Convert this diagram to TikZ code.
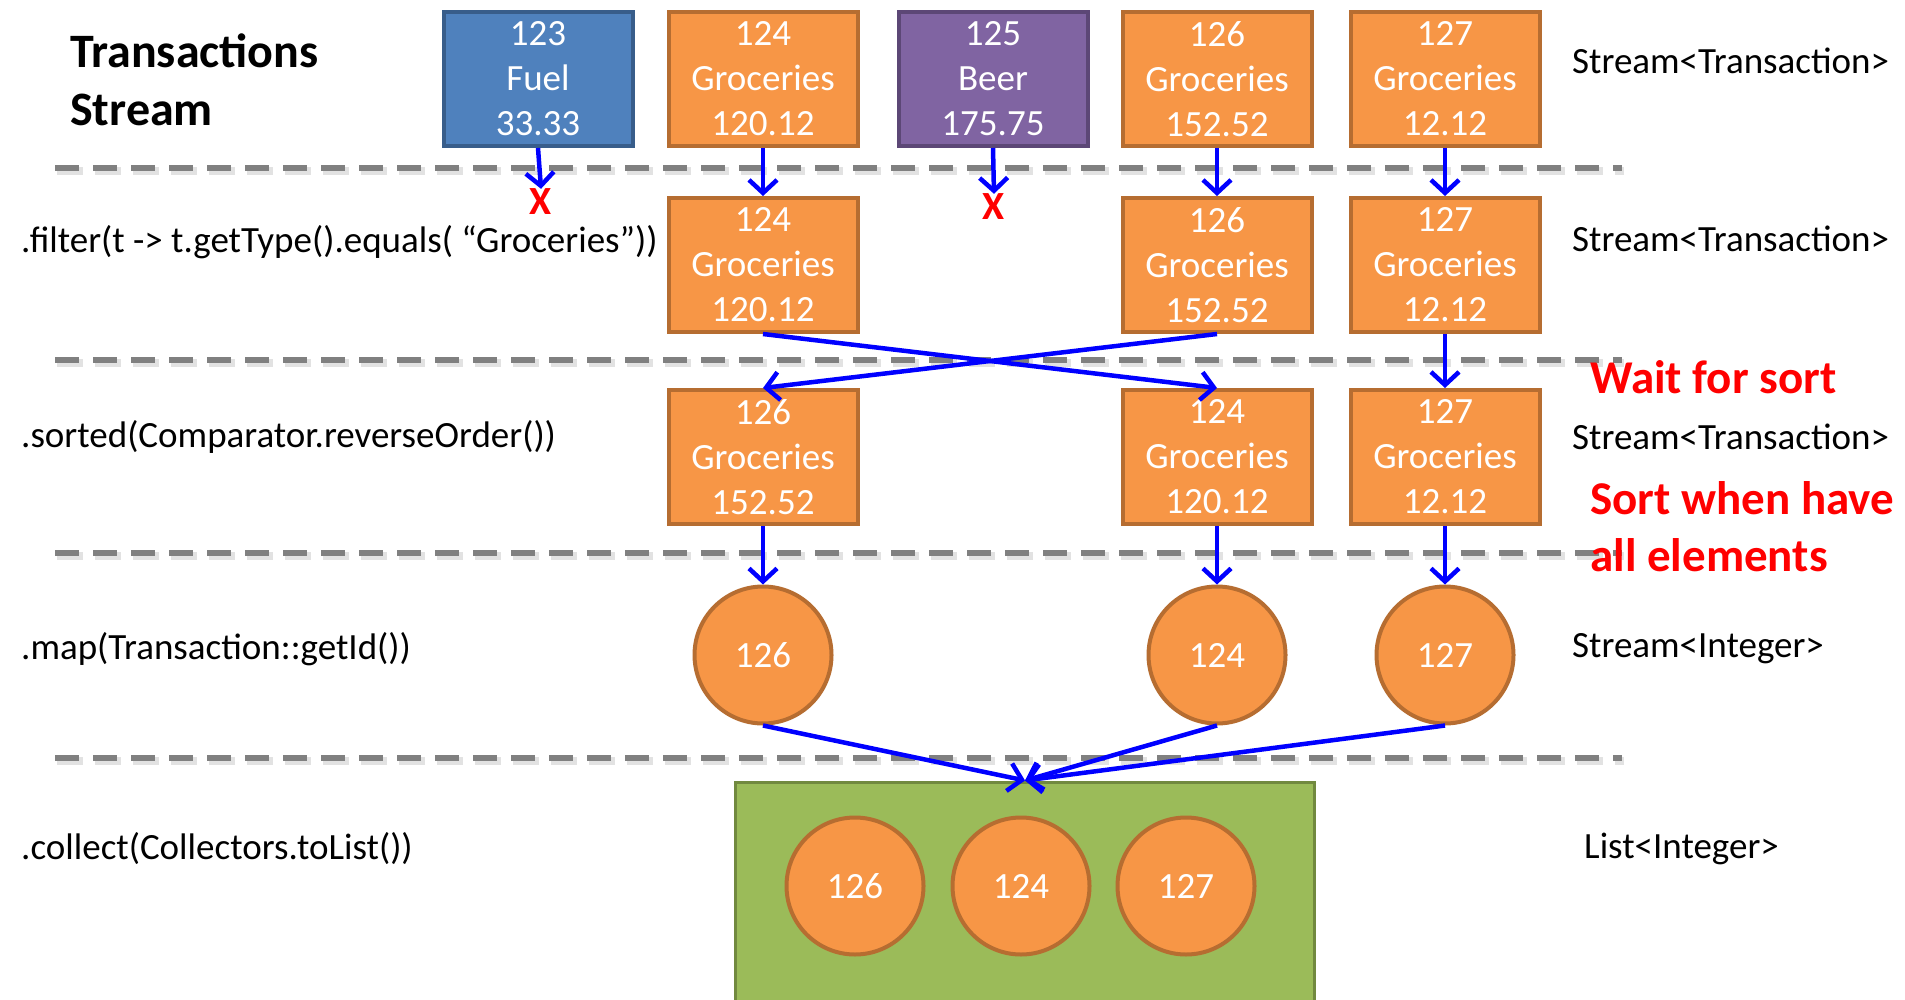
\documentclass[tikz,border=0pt]{standalone}
\usepackage{fontspec}
\setmainfont{Carlito}
\usetikzlibrary{arrows.meta}
\definecolor{orfill}{HTML}{F79646}
\definecolor{ordraw}{HTML}{B66D31}
\definecolor{blfill}{HTML}{4F81BD}
\definecolor{bldraw}{HTML}{385D8A}
\definecolor{pufill}{HTML}{8064A2}
\definecolor{pudraw}{HTML}{5C4776}
\definecolor{grfill}{HTML}{9BBB59}
\definecolor{grdraw}{HTML}{71893F}
\definecolor{sepgray}{HTML}{808080}
\definecolor{sepshadow}{HTML}{E2E2E2}
\definecolor{flowblue}{HTML}{0000FF}
\definecolor{alertred}{HTML}{FF0000}
\begin{document}
\begin{tikzpicture}[x=1pt,y=-1pt,
  txbox/.style={rectangle, draw=ordraw, fill=orfill, line width=4pt,
    minimum width=189pt, minimum height=134pt, inner sep=0pt,
    text=white, align=center, font=\fontsize{37}{45}\selectfont},
  fuelbox/.style={txbox, draw=bldraw, fill=blfill},
  beerbox/.style={txbox, draw=pudraw, fill=pufill},
  idcirc/.style={circle, draw=ordraw, fill=orfill, line width=4pt,
    minimum size=137pt, inner sep=0pt, text=white,
    font=\fontsize{37}{45}\selectfont},
  listbox/.style={rectangle, draw=grdraw, fill=grfill, line width=3pt,
    minimum width=579pt, minimum height=260pt, inner sep=0pt},
  sepline/.style={draw=sepgray, line width=6pt, dash pattern=on 24pt off 14pt},
  sepshade/.style={draw=sepshadow, line width=8pt, dash pattern=on 26pt off 12pt},
  flow/.style={draw=flowblue, line width=4.5pt,
    -{Straight Barb[length=13pt,width=28pt]}},
  oplabel/.style={anchor=west, inner sep=0pt, font=\fontsize{37}{45}\selectfont},
  typelabel/.style={anchor=west, inner sep=0pt, font=\fontsize{37}{45}\selectfont},
  redlabel/.style={anchor=west, inner sep=0pt, text=alertred,
    font=\fontsize{47}{57}\selectfont\bfseries},
  dropmark/.style={inner sep=0pt, text=alertred, font=\fontsize{40}{40}\selectfont\bfseries},
]
\useasboundingbox (0,0) rectangle (1905,1000);
\clip (0,0) rectangle (1905,1000);

% separators
\foreach \yy in {168,360,553,758}{
  \draw[sepshade] (57,\yy+3) -- (1624,\yy+3);
  \draw[sepline] (55,\yy) -- (1622,\yy);
}

% title
\node[anchor=west, inner sep=0pt, align=left,
  font=\fontsize{48}{58}\selectfont\bfseries] (title) at (70,80) {Transactions\\Stream};

% row 1
\node[fuelbox] (r1a) at (538,79) {123\\Fuel\\33.33};
\node[txbox]   (r1b) at (763,79) {124\\Groceries\\120.12};
\node[beerbox] (r1c) at (993,79) {125\\Beer\\175.75};
\node[txbox]   (r1d) at (1217,79) {126\\Groceries\\152.52};
\node[txbox]   (r1e) at (1445,79) {127\\Groceries\\12.12};

% row 2 (filter)
\node[txbox] (r2b) at (763,265) {124\\Groceries\\120.12};
\node[txbox] (r2d) at (1217,265) {126\\Groceries\\152.52};
\node[txbox] (r2e) at (1445,265) {127\\Groceries\\12.12};

% row 3 (sorted)
\node[txbox] (r3a) at (763,457) {126\\Groceries\\152.52};
\node[txbox] (r3b) at (1217,457) {124\\Groceries\\120.12};
\node[txbox] (r3c) at (1445,457) {127\\Groceries\\12.12};

% row 4 (map)
\node[idcirc] (r4a) at (763,655) {126};
\node[idcirc] (r4b) at (1217,655) {124};
\node[idcirc] (r4c) at (1445,655) {127};

% collect
\node[listbox] (coll) at (1025,912) {};
\node[idcirc] (c1) at (855,886) {126};
\node[idcirc] (c2) at (1021,886) {124};
\node[idcirc] (c3) at (1186,886) {127};

% drop marks
\node[dropmark] (x1) at (541,202) {X};
\node[dropmark] (x2) at (994,207) {X};

% arrows
\draw[flow] (r1a.south) -- (x1.north);
\draw[flow] (r1c.south) -- (x2.north);
\draw[flow] (r1b.south) -- (r2b.north);
\draw[flow] (r1d.south) -- (r2d.north);
\draw[flow] (r1e.south) -- (r2e.north);
\draw[flow] (r2b.south) -- (r3b.north);
\draw[flow] (r2d.south) -- (r3a.north);
\draw[flow] (r2e.south) -- (r3c.north);
\draw[flow] (r3a.south) -- (r4a.north);
\draw[flow] (r3b.south) -- (r4b.north);
\draw[flow] (r3c.south) -- (r4c.north);
\draw[flow] (r4a.south) -- (coll.north);
\draw[flow] (r4b.south) -- (coll.north);
\draw[flow] (r4c.south) -- (coll.north);

% operation labels
\node[oplabel] (opf) at (21,242) {.filter(t -> t.getType().equals( “Groceries”))};
\node[oplabel] (ops) at (21,437) {.sorted(Comparator.reverseOrder())};
\node[oplabel] (opm) at (21,649) {.map(Transaction::getId())};
\node[oplabel] (opc) at (21,849) {.collect(Collectors.toList())};

% type labels
\node[typelabel] (t1) at (1572,61) {Stream<Transaction>};
\node[typelabel] (t2) at (1572,239) {Stream<Transaction>};
\node[typelabel] (t3) at (1572,437) {Stream<Transaction>};
\node[typelabel] (t4) at (1572,649) {Stream<Integer>};
\node[typelabel] (t5) at (1584,849) {List<Integer>};

% notes
\node[redlabel] (n1) at (1590,377) {Wait for sort};
\node[redlabel, align=left] (n2) at (1590,527) {Sort when have\\all elements};
\end{tikzpicture}
\end{document}
